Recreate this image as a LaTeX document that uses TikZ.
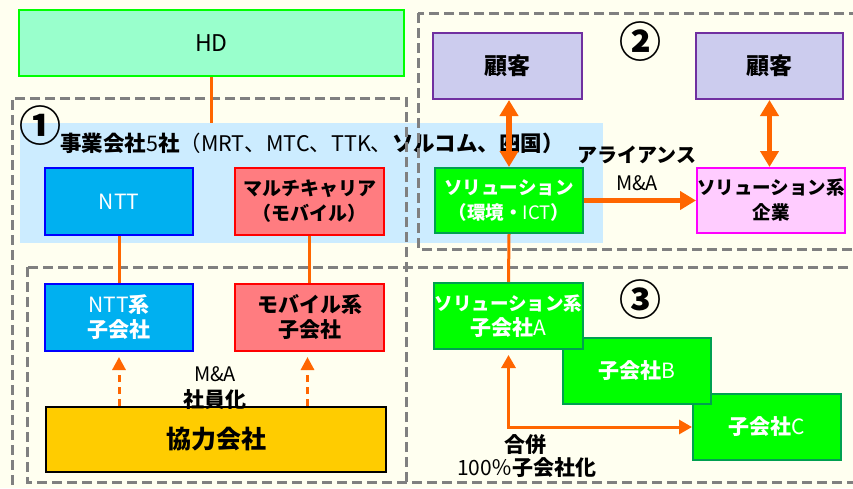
\documentclass[tikz,border=0pt]{standalone}
\usepackage{fontspec}
\setmainfont{Noto Sans CJK JP}
\usetikzlibrary{arrows.meta}
\definecolor{bg}{HTML}{FFFFF0}
\definecolor{band}{HTML}{CCECFF}
\definecolor{hdfill}{HTML}{99FFCC}
\definecolor{hdline}{HTML}{00FF00}
\definecolor{nttfill}{HTML}{00B0F0}
\definecolor{nttline}{HTML}{0000FF}
\definecolor{mcfill}{HTML}{FF7C80}
\definecolor{mcline}{HTML}{FF0000}
\definecolor{kyofill}{HTML}{FFCC00}
\definecolor{kkfill}{HTML}{CCCCEE}
\definecolor{kkline}{HTML}{7030A0}
\definecolor{solfill}{HTML}{00FF00}
\definecolor{solline}{HTML}{00A050}
\definecolor{skfill}{HTML}{FFCCFF}
\definecolor{skline}{HTML}{FF00FF}
\definecolor{dgray}{HTML}{808080}
\definecolor{org}{HTML}{FF6600}
\tikzset{
  box/.style={draw, line width=2pt, inner sep=0pt, align=center,
    font=\bfseries\fontsize{21}{25}\selectfont},
  dbox/.style={draw=dgray, line width=3pt, dash pattern=on 10pt off 5pt},
  thinline/.style={draw=org, line width=3pt},
  thickarr/.style={draw=org, line width=5.5pt,
    {Triangle[length=16pt,width=18pt]}-{Triangle[length=16pt,width=18pt]}},
  thickone/.style={draw=org, line width=5.5pt, -{Triangle[length=16pt,width=18pt]}},
  dasharr/.style={draw=org, line width=3pt, dash pattern=on 7pt off 5pt,
    -{Triangle[length=13pt,width=13pt]}},
  thinarr/.style={draw=org, line width=3pt,
    {Triangle[length=13pt,width=14pt]}-{Triangle[length=13pt,width=14pt]}},
  lbl/.style={inner sep=0pt, font=\fontsize{20}{22}\selectfont},
  circnum/.style={inner sep=0pt, font=\bfseries\fontsize{42}{42}\selectfont},
}
\begin{document}
\begin{tikzpicture}[x=1pt,y=-1pt]
\useasboundingbox (0,0) rectangle (853,488);
\fill[bg] (0,0) rectangle (853,488);
% blue band
\node[fill=band, minimum width=583pt, minimum height=120pt, inner sep=0pt] (band) at (311.5,183) {};
% title
\node[lbl, anchor=west, font=\fontsize{21.5}{24}\selectfont] (title) at (60,143)
  {{\bfseries 事業会社}5{\bfseries 社}（MRT、MTC、TTK、{\bfseries ソルコム、四国）}};
% dashed group frames
\draw[dbox] (406,482) -- (406,98) -- (12,98) -- (12,495);
\draw[dbox] (27,267) rectangle (875,482);
\draw[dbox] (418,13) rectangle (875,249);
% circled numbers
\node[circnum] (n1) at (40,126) {①};
\node[circnum] (n2) at (640,42) {②};
\node[circnum] (n3) at (640,300) {③};
% boxes
\node[box, fill=hdfill, draw=hdline, minimum width=385pt, minimum height=66pt,
  font=\fontsize{23}{25}\selectfont] (hd) at (211.5,43) {HD};
\node[box, fill=nttfill, draw=nttline, minimum width=148pt, minimum height=67pt,
  text=white, font=\fontsize{21}{25}\selectfont] (ntt) at (119,201.5) {NTT};
\node[box, fill=mcfill, draw=mcline, minimum width=149pt, minimum height=67pt,
  font=\bfseries\fontsize{19}{25}\selectfont] (mc) at (309.5,201.5) {マルチキャリア\\（モバイル）};
\node[box, fill=nttfill, draw=nttline, minimum width=148pt, minimum height=67pt,
  text=white] (nttsub) at (119,317.5) {{\mdseries NTT}系\\子会社};
\node[box, fill=mcfill, draw=mcline, minimum width=149pt, minimum height=67pt]
  (mobsub) at (309.5,317.5) {モバイル系\\子会社};
\node[box, fill=kyofill, draw=black, minimum width=340pt, minimum height=65pt,
  font=\bfseries\fontsize{25}{27}\selectfont] (kyo) at (216,439.5) {協力会社};
\node[box, fill=kkfill, draw=kkline, minimum width=149pt, minimum height=66pt,
  font=\bfseries\fontsize{23}{25}\selectfont] (kk1) at (507.5,66) {顧客};
\node[box, fill=kkfill, draw=kkline, minimum width=147pt, minimum height=66pt,
  font=\bfseries\fontsize{23}{25}\selectfont] (kk2) at (769.5,66) {顧客};
\node[box, fill=solfill, draw=solline, minimum width=148pt, minimum height=65pt,
  text=white, font=\bfseries\fontsize{18.5}{25}\selectfont] (sol) at (509,200.5) {ソリューション\\（環境・{\mdseries ICT}）};
\node[box, fill=skfill, draw=skline, minimum width=148pt, minimum height=65pt,
  font=\bfseries\fontsize{18.5}{25}\selectfont] (sk) at (771,200.5) {ソリューション系\\企業};
\node[box, fill=solfill, draw=solline, minimum width=148pt, minimum height=66pt,
  text=white] (subC) at (767,427) {子会社{\mdseries C}};
\node[box, fill=solfill, draw=solline, minimum width=148pt, minimum height=66pt,
  text=white] (subB) at (637,371) {子会社{\mdseries B}};
\node[box, fill=solfill, draw=solline, minimum width=149pt, minimum height=66pt,
  text=white, font=\bfseries\fontsize{18.5}{25}\selectfont] (subA) at (508.5,316) {ソリューション系\\{\fontsize{21}{25}\selectfont 子会社\mdseries A}};
% labels
\node[lbl, font=\bfseries\fontsize{20}{22}\selectfont] (alli) at (637,155) {アライアンス};
\node[lbl] (ma1) at (637,183) {M\&A};
\node[lbl] (ma2) at (215,374) {M\&A};
\node[lbl, font=\bfseries\fontsize{21}{22}\selectfont] (shain) at (215,400) {社員化};
\node[lbl, font=\bfseries\fontsize{21}{22}\selectfont] (gap) at (525,445) {合併};
\node[lbl, font=\fontsize{21}{22}\selectfont] (k100) at (527,468) {100％{\bfseries 子会社化}};
% connectors
\draw[thinline] (hd.south) -- (hd.south |- band.north);
\draw[thinline] (ntt.south) -- (nttsub.north);
\draw[thinline] (mc.south) -- (mobsub.north);
\draw[thinline] (sol.south) -- (subA.north);
\draw[dasharr, shorten >=5pt] (kyo.north -| nttsub.south) -- (nttsub.south);
\draw[dasharr, shorten >=5pt] ([xshift=-2pt]kyo.north -| mobsub.south) -- ([xshift=-2pt]mobsub.south);
\draw[thickarr] (kk1.south -| sol.north) -- (sol.north);
\draw[thickarr] (kk2.south) -- (kk2.south |- sk.north);
\draw[thickone] (sol.east) -- (sk.west);
\draw[thinarr, shorten <=5pt] (subA.south) |- (subC.west);
\end{tikzpicture}
\end{document}
